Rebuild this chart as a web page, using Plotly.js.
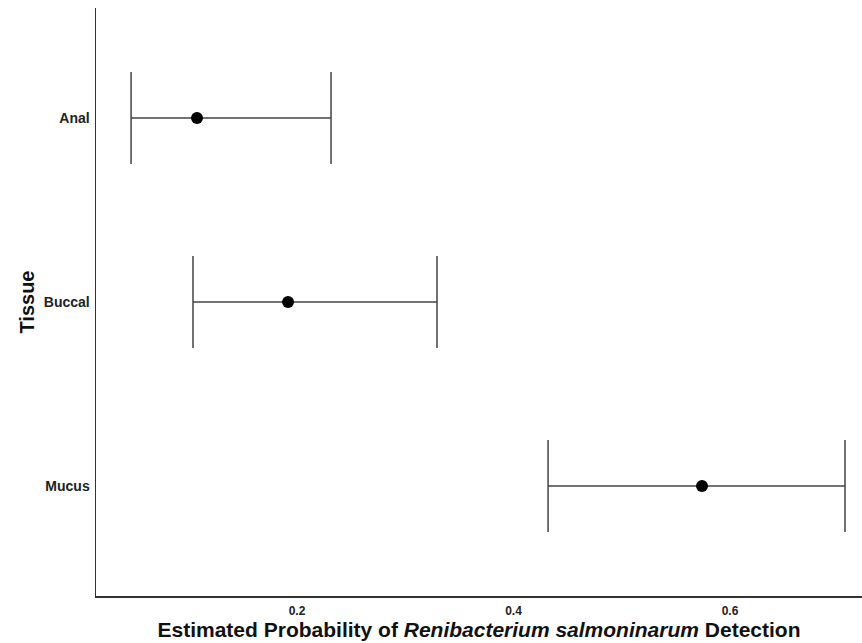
<!DOCTYPE html>
<html>
<head>
<meta charset="utf-8">
<script src="https://cdn.plot.ly/plotly-3.0.1.min.js"></script>
<style>html,body{margin:0;padding:0;background:#fff;}#chart{width:862px;height:643px;}</style>
</head>
<body>
<div id="chart"></div>
<script>
var tissues = ["Anal", "Buccal", "Mucus"];
var estimate = [0.1076, 0.1917, 0.5741];
var lower = [0.0467, 0.1039, 0.4319];
var upper = [0.2314, 0.3293, 0.7062];
var xTicks = [0.2, 0.4, 0.6];
var xTickLabels = ["0.2", "0.4", "0.6"];

var trace = {
  type: "scatter",
  mode: "markers",
  x: estimate,
  y: tissues,
  marker: {color: "#000000", size: 12},
  error_x: {
    type: "data",
    symmetric: false,
    array: estimate.map(function(v, i){ return upper[i] - v; }),
    arrayminus: estimate.map(function(v, i){ return v - lower[i]; }),
    color: "#444444",
    thickness: 1.5,
    width: 46
  },
  showlegend: false,
  hoverinfo: "x+y"
};

var layout = {
  width: 862, height: 643,
  margin: {l: 96, r: 0, t: 8, b: 47},
  paper_bgcolor: "#ffffff",
  plot_bgcolor: "#ffffff",
  font: {family: "Liberation Sans, Arial, sans-serif", color: "#000"},
  xaxis: {
    range: [0.0143, 0.7219],
    tickvals: xTicks,
    ticktext: xTickLabels,
    ticks: "",
    showgrid: false,
    zeroline: false,
    showline: true,
    linecolor: "#333333",
    linewidth: 1.5,
    tickfont: {size: 12, family: "Liberation Sans, Arial, sans-serif", weight: "bold", color: "#222"},
    ticklabelstandoff: 3,
    title: {
      text: "<b>Estimated Probability of <i>Renibacterium salmoninarum</i> Detection</b>",
      font: {size: 21, color: "#111"},
      standoff: 2
    }
  },
  yaxis: {
    type: "category",
    categoryorder: "array",
    categoryarray: tissues,
    range: [2.598, -0.598],
    ticks: "",
    showgrid: false,
    zeroline: false,
    showline: true,
    linecolor: "#333333",
    linewidth: 1.5,
    tickfont: {size: 14, family: "Liberation Sans, Arial, sans-serif", weight: "bold", color: "#222"},
    ticklabelstandoff: 2,
    title: {
      text: "<b>Tissue</b>",
      font: {size: 20, color: "#111"},
      standoff: 4
    }
  }
};

Plotly.newPlot("chart", [trace], layout, {displayModeBar: false, staticPlot: true});
</script>
</body>
</html>
